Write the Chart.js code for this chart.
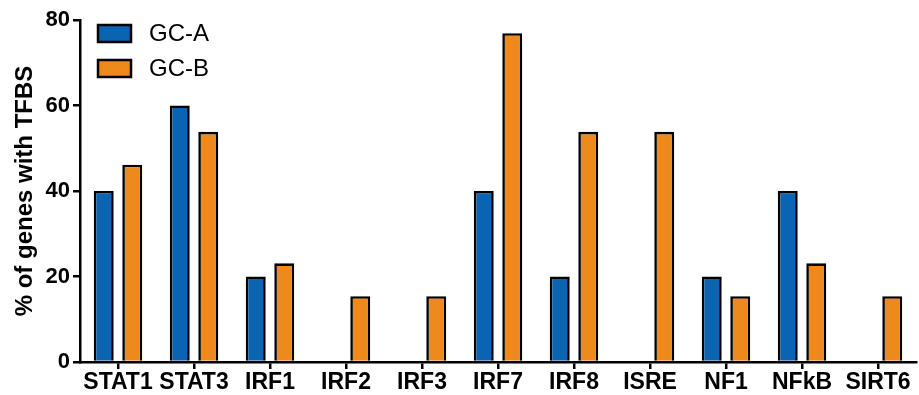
<!DOCTYPE html>
<html>
<head>
<meta charset="utf-8">
<script src="https://cdn.jsdelivr.net/npm/chart.js@4/dist/chart.umd.min.js"></script>
<style>
  html, body { margin: 0; padding: 0; background: #fff; }
  #wrap { width: 919px; height: 395px; position: relative; }
</style>
</head>
<body>
<div id="wrap"><canvas id="tfbsChart"></canvas></div>
<script>
const categories = ['STAT1', 'STAT3', 'IRF1', 'IRF2', 'IRF3', 'IRF7', 'IRF8', 'ISRE', 'NF1', 'NFkB', 'SIRT6'];
const gcA = [40, 60, 20, 0, 0, 40, 20, 0, 20, 40, 0];
const gcB = [46.15, 53.85, 23.08, 15.38, 15.38, 76.92, 53.85, 53.85, 15.38, 23.08, 15.38];
const yTicks = [0, 20, 40, 60, 80];

const FONT = '"Liberation Sans", Arial, Helvetica, sans-serif';
const BLUE = '#0b64b1';
const ORANGE = '#ee8a1b';

// legend drawn inside the plot, top-left, like the original figure
const insideLegend = {
    id: 'insideLegend',
    afterDraw(chart) {
        const ctx = chart.ctx;
        ctx.save();
        chart.data.datasets.forEach((ds, i) => {
            const y = 25 + i * 35;
            ctx.fillStyle = ds.backgroundColor;
            ctx.fillRect(98, y, 33, 17);
            ctx.lineWidth = 2.5;
            ctx.strokeStyle = '#000';
            ctx.strokeRect(98, y, 33, 17);
            ctx.fillStyle = '#000';
            ctx.font = '24px ' + FONT;
            ctx.textBaseline = 'middle';
            ctx.fillText(ds.label, 149, y + 9);
        });
        ctx.restore();
    }
};

const ctx = document.getElementById('tfbsChart').getContext('2d');
new Chart(ctx, {
    type: 'bar',
    data: {
        labels: categories,
        datasets: [
            { label: 'GC-A', data: gcA, backgroundColor: BLUE, borderColor: '#000', borderWidth: 2.6 },
            { label: 'GC-B', data: gcB, backgroundColor: ORANGE, borderColor: '#000', borderWidth: 2.6 }
        ]
    },
    options: {
        responsive: true,
        maintainAspectRatio: false,
        animation: false,
        categoryPercentage: 0.75,
        barPercentage: 0.7,
        layout: { padding: { top: 20, right: 3, left: 0, bottom: 0 } },
        plugins: {
            legend: { display: false },
            tooltip: { enabled: false }
        },
        scales: {
            x: {
                grid: { offset: false, drawOnChartArea: false, drawTicks: true, tickLength: 7, color: '#000', lineWidth: 2.5 },
                border: { display: true, color: '#000', width: 2.5 },
                ticks: {
                    color: '#000', autoSkip: false, maxRotation: 0, minRotation: 0, padding: 0,
                    font: { family: FONT, size: 23, weight: 'bold' }
                },
                afterFit(scale) { scale.height = 33; }
            },
            y: {
                min: 0,
                max: 80,
                afterBuildTicks(scale) { scale.ticks = yTicks.map(v => ({ value: v })); },
                grid: { drawOnChartArea: false, drawTicks: true, tickLength: 7, color: '#000', lineWidth: 2.5 },
                border: { display: true, color: '#000', width: 2.5 },
                ticks: {
                    color: '#000', padding: 3,
                    font: { family: FONT, size: 22, weight: 'bold' }
                },
                title: {
                    display: true,
                    text: '% of genes with TFBS',
                    color: '#000',
                    padding: { top: 11, bottom: 0 },
                    font: { family: FONT, size: 24, weight: 'bold' }
                },
                afterFit(scale) { scale.width = 80; }
            }
        }
    },
    plugins: [insideLegend]
});
</script>
</body>
</html>
